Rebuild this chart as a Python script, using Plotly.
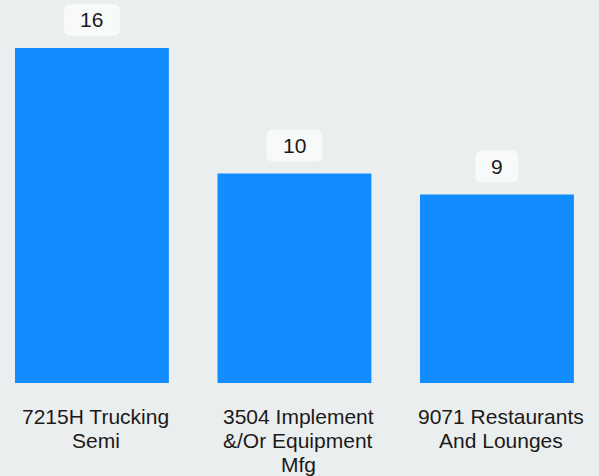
import plotly.graph_objects as go

categories = ["7215H Trucking<br>Semi", "3504 Implement<br>&/Or Equipment<br>Mfg", "9071 Restaurants<br>And Lounges"]
counts = [16, 10, 9]

BAR_COLOR = "#118DFF"
BG = "#EBEEEF"
LABEL_BG = "#F8F9F9"
TEXT = "#1B1A19"
FONT = "Arial"
LINE_STEP = 24  # px between category label lines

xs = list(range(len(categories)))

fig = go.Figure(go.Bar(
    x=xs, y=counts, width=0.76, marker=dict(color=BAR_COLOR, line=dict(width=0)),
    hoverinfo="skip",
))


def rounded_rect(w, h, r, cy):
    # rectangle in pixel offsets, centred horizontally, centred at cy above the anchor
    x0, x1 = -w / 2, w / 2
    y0, y1 = cy - h / 2, cy + h / 2
    return (f"M {x0 + r},{y0} L {x1 - r},{y0} Q {x1},{y0} {x1},{y0 + r} "
            f"L {x1},{y1 - r} Q {x1},{y1} {x1 - r},{y1} L {x0 + r},{y1} "
            f"Q {x0},{y1} {x0},{y1 - r} L {x0},{y0 + r} Q {x0},{y0} {x0 + r},{y0} Z")


# value labels in rounded boxes above each bar
for x, v in zip(xs, counts):
    w = 13 * len(str(v)) + 30
    fig.add_shape(type="path", xref="x", yref="y", xsizemode="pixel", ysizemode="pixel",
                  xanchor=x, yanchor=v, path=rounded_rect(w, 32, 7, 28),
                  fillcolor=LABEL_BG, line=dict(width=0), layer="above")
    fig.add_annotation(x=x, y=v, text=str(v), showarrow=False, yshift=28,
                       font=dict(family=FONT, size=21, color=TEXT))

# category labels under the bars, one annotation per line for tight spacing
for x, cat in zip(xs, categories):
    for k, line in enumerate(cat.split("<br>")):
        fig.add_annotation(x=x, y=0, text=line, showarrow=False, xshift=4,
                           yanchor="middle", yshift=-(33 + k * LINE_STEP),
                           font=dict(family=FONT, size=21, color=TEXT))

fig.update_layout(
    width=599, height=476,
    margin=dict(l=0, r=0, t=0, b=93),
    paper_bgcolor=BG, plot_bgcolor=BG,
    showlegend=False,
    xaxis=dict(range=[-0.454, 2.504], showticklabels=False,
               showgrid=False, zeroline=False, showline=False, ticks="", fixedrange=True),
    yaxis=dict(range=[0, 18.29], visible=False, fixedrange=True),
)

fig.write_html("out.html")
